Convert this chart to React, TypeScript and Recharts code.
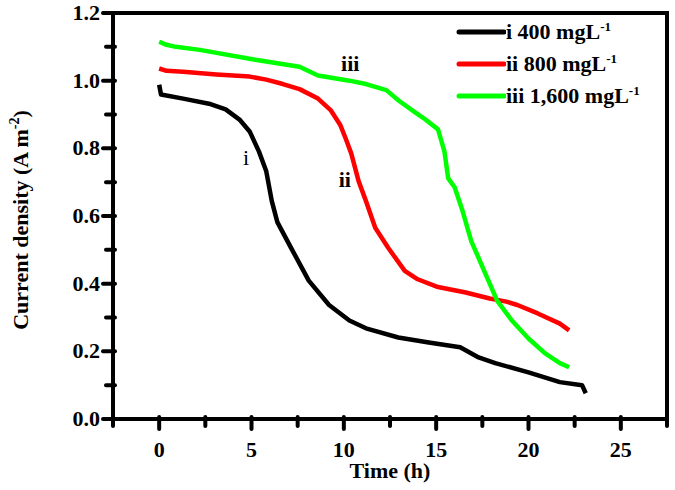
import { LineChart, Line, XAxis, YAxis, ReferenceArea, ReferenceDot, Legend, Label } from 'recharts'

// curve i, 400 mg/L
const timeI = [0, 0.1, 1.3, 2.7, 3.6, 4.35, 4.9, 5.4, 5.8, 6.1, 6.4, 7.2, 8.1, 9.2, 10.3, 11.2, 12.95, 14.6, 16.3, 17.3, 18.2, 20.0, 21.7, 22.9, 23.1]
const currentI = [0.988, 0.959, 0.947, 0.932, 0.915, 0.885, 0.85, 0.791, 0.732, 0.644, 0.582, 0.5, 0.409, 0.337, 0.291, 0.268, 0.241, 0.226, 0.212, 0.182, 0.165, 0.138, 0.109, 0.1, 0.076]

// curve ii, 800 mg/L
const timeII = [0, 0.4, 1.3, 3.1, 4.9, 5.8, 6.7, 7.6, 8.6, 9.3, 9.8, 10.1, 10.4, 10.8, 11.2, 11.7, 12.4, 13.3, 14.0, 15.1, 16.6, 17.9, 18.8, 19.4, 20.5, 21.7, 22.2]
const currentII = [1.036, 1.029, 1.026, 1.018, 1.012, 1.003, 0.99, 0.975, 0.947, 0.912, 0.87, 0.829, 0.785, 0.703, 0.644, 0.565, 0.506, 0.438, 0.413, 0.39, 0.374, 0.356, 0.347, 0.337, 0.312, 0.282, 0.262]

// curve iii, 1,600 mg/L
const timeIII = [0, 0.4, 0.9, 2.2, 5.2, 7.6, 8.6, 10.3, 11.2, 12.3, 13.0, 13.9, 14.4, 15.1, 15.45, 15.65, 15.8, 16.0, 16.4, 16.9, 17.6, 18.3, 19.1, 20.0, 20.9, 21.7, 22.2]
const currentIII = [1.115, 1.106, 1.1, 1.091, 1.062, 1.041, 1.015, 1.0, 0.99, 0.972, 0.94, 0.905, 0.886, 0.856, 0.79, 0.712, 0.7, 0.685, 0.62, 0.526, 0.438, 0.35, 0.291, 0.238, 0.194, 0.165, 0.153]

const xTicks = [-2.5, 0, 2.5, 5, 7.5, 10, 12.5, 15, 17.5, 20, 22.5, 25, 27.5]
const xLabelled = [0, 5, 10, 15, 20, 25]
const yTicks = [0, 0.1, 0.2, 0.3, 0.4, 0.5, 0.6, 0.7, 0.8, 0.9, 1.0, 1.1, 1.2]
const yLabelled = [0, 0.2, 0.4, 0.6, 0.8, 1.0, 1.2]

const seriesNames = ['i 400 mgL', 'ii 800 mgL', 'iii 1,600 mgL']
const seriesColors = ['#000000', '#ff0000', '#00ff00']
const curveTags = ['i', 'ii', 'iii']
const tagTime = [4.7, 10.05, 10.35]
const tagCurrent = [0.77, 0.705, 1.05]

const serif = '"Liberation Serif", "Times New Roman", serif'

const toPoints = (t: number[], v: number[]) => t.map((x, i) => ({ t: x, v: v[i] }))
const series = [toPoints(timeI, currentI), toPoints(timeII, currentII), toPoints(timeIII, currentIII)]

const XTick = (props: any) => {
  const x = Number(props.x)
  const y = Number(props.y)
  const value = props.payload.value
  const major = xLabelled.includes(value)
  return (
    <g>
      <line x1={x} x2={x} y1={y - 2} y2={y + (major ? 10 : 7)} stroke="#000" strokeWidth={4} strokeLinecap="round" />
      {major && (
        <text x={x} y={y + 38} textAnchor="middle" fontFamily={serif} fontWeight="bold" fontSize={22} fill="#000">
          {value}
        </text>
      )}
    </g>
  )
}

const YTick = (props: any) => {
  const x = Number(props.x)
  const y = Number(props.y)
  const value = props.payload.value
  const major = yLabelled.some((v) => Math.abs(v - value) < 1e-6)
  return (
    <g>
      <line x1={x + 2} x2={x - (major ? 10 : 7)} y1={y} y2={y} stroke="#000" strokeWidth={4} strokeLinecap="round" />
      {major && (
        <text x={x - 13} y={y + 7} textAnchor="end" fontFamily={serif} fontWeight="bold" fontSize={22} fill="#000">
          {value.toFixed(1)}
        </text>
      )}
    </g>
  )
}

const renderLegend = () => (
  <div style={{ fontFamily: serif, fontWeight: 'bold', fontSize: 22, color: '#000' }}>
    {seriesNames.map((name, i) => (
      <div key={name} style={{ display: 'flex', alignItems: 'center', height: 32, whiteSpace: 'nowrap' }}>
        <svg width={50} height={8}>
          <line x1={3} x2={48} y1={4} y2={4} stroke={seriesColors[i]} strokeWidth={5} strokeLinecap="round" />
        </svg>
        <span>
          {name}
          <sup style={{ fontSize: 13 }}>-1</sup>
        </span>
      </div>
    ))}
  </div>
)

export default function App() {
  return (
    <div style={{ position: 'absolute', left: 0, top: 0, background: '#fff' }}>
      <LineChart width={675} height={490} margin={{ top: 13, right: 8, bottom: 0, left: 0 }}>
        <XAxis
          dataKey="t"
          type="number"
          domain={[-2.5, 27.5]}
          ticks={xTicks}
          interval={0}
          allowDataOverflow
          height={71}
          tickSize={0}
          tickMargin={0}
          tickLine={false}
          tick={<XTick />}
          axisLine={{ stroke: '#000', strokeWidth: 4 }}
        >
          <Label
            content={(p: any) => {
              const vb = p.viewBox
              return (
                <text x={vb.x + vb.width / 2} y={478} textAnchor="middle" fontFamily={serif} fontWeight="bold" fontSize={22} fill="#000">
                  Time (h)
                </text>
              )
            }}
          />
        </XAxis>
        <YAxis
          type="number"
          domain={[0, 1.2]}
          ticks={yTicks}
          interval={0}
          allowDataOverflow
          width={113}
          tickSize={0}
          tickMargin={0}
          tickLine={false}
          tick={<YTick />}
          axisLine={{ stroke: '#000', strokeWidth: 4 }}
        >
          <Label
            content={(p: any) => {
              const vb = p.viewBox
              const cy = vb.y + vb.height / 2 + 4
              return (
                <text x={28} y={cy} transform={`rotate(-90, 28, ${cy})`} textAnchor="middle" fontFamily={serif} fontWeight="bold" fontSize={22} fill="#000">
                  Current density (A m<tspan dy={-9} fontSize={14}>-2</tspan>
                  <tspan dy={9}>)</tspan>
                </text>
              )
            }}
          />
        </YAxis>
        <ReferenceArea x1={-2.5} x2={27.5} y1={0} y2={1.2} fill="none" stroke="#000" strokeWidth={4} fillOpacity={0} ifOverflow="visible" />
        {series.map((d, i) => (
          <Line
            key={seriesNames[i]}
            data={d}
            dataKey="v"
            name={seriesNames[i]}
            type="linear"
            stroke={seriesColors[i]}
            strokeWidth={4.5}
            strokeLinejoin="round"
            dot={false}
            isAnimationActive={false}
          />
        ))}
        {curveTags.map((tag, i) => (
          <ReferenceDot
            key={tag}
            x={tagTime[i]}
            y={tagCurrent[i]}
            r={0}
            fill="none"
            stroke="none"
            label={(p: any) => {
              const vb = p.viewBox
              return (
                <text
                  x={vb.x + vb.width / 2}
                  y={vb.y + vb.height / 2 + 7}
                  textAnchor="middle"
                  fontFamily={serif}
                  fontWeight={i === 0 ? 'normal' : 'bold'}
                  fontSize={22}
                  fill="#000"
                >
                  {tag}
                </text>
              )
            }}
          />
        ))}
        <Legend
          layout="horizontal"
          verticalAlign="middle"
          align="center"
          content={renderLegend}
          wrapperStyle={{ left: 456, top: 16, width: 215 }}
        />
      </LineChart>
    </div>
  )
}
